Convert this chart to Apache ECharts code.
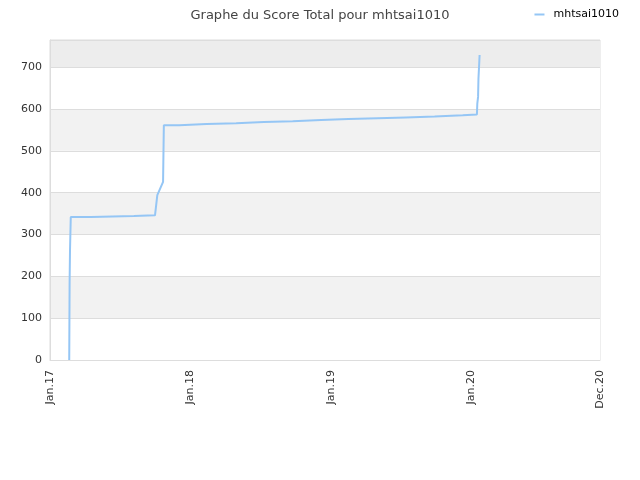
<!DOCTYPE html>
<html>
<head>
<meta charset="utf-8">
<script src="https://cdn.jsdelivr.net/npm/echarts@6/dist/echarts.min.js"></script>
<style>
html,body{margin:0;padding:0;background:#fff;}
#chart{width:640px;height:480px;}
</style>
</head>
<body>
<div id="chart"></div>
<script>
// donnees
var playerName = 'mhtsai1010';
var scoreDates = [
    '2017-02-20','2017-02-21','2017-02-22','2017-02-24','2017-04-18','2017-04-19',
    '2017-08-07','2017-08-08','2017-10-01','2017-10-05','2017-10-07','2017-10-22',
    '2017-10-24','2017-12-03','2017-12-04','2018-02-12','2018-02-13','2018-04-30',
    '2018-05-01','2018-07-11','2018-07-12','2018-09-24','2018-09-25','2018-12-07',
    '2018-12-08','2019-02-16','2019-02-17','2019-05-03','2019-05-04','2019-07-15',
    '2019-07-16','2019-09-28','2019-09-29','2019-12-10','2019-12-11','2020-01-16',
    '2020-01-17','2020-01-19','2020-01-20','2020-01-23'
];
var scoreValues = [
    0,187,261,342,342,344,
    344,346,346,350,394,426,
    561,561,564,564,566,566,
    569,569,571,571,574,574,
    576,576,578,578,580,580,
    582,582,585,585,587,587,
    613,629,673,729
];
var tickDays = [0,365,730,1095,1430];
var tickLabels = ['Jan.17','Jan.18','Jan.19','Jan.20','Dec.20'];

var startDay = Date.UTC(2017,0,1);
function toDay(s) {
    var p = s.split('-');
    return Math.round((Date.UTC(+p[0], +p[1]-1, +p[2]) - startDay) / 86400000);
}

var seriesData = [];
for (var i = 0; i < scoreDates.length; i++) {
    seriesData.push([toDay(scoreDates[i]), scoreValues[i]]);
}

var chart = echarts.init(document.getElementById('chart'));
var option = {
    animation: false,
    textStyle: {fontFamily: 'DejaVu Sans'},
    title: {
        text: 'Graphe du Score Total pour ' + playerName,
        left: 'center',
        top: 4,
        textStyle: {color: '#444', fontSize: 13, fontWeight: 'normal', fontFamily: 'DejaVu Sans'}
    },
    legend: {
        right: 16,
        top: 4,
        itemWidth: 10,
        itemHeight: 2,
        icon: 'rect',
        textStyle: {color: '#000', fontSize: 11, fontFamily: 'DejaVu Sans', padding: [0, 0, 0, 4]},
        data: [playerName]
    },
    grid: {
        left: 50, right: 40, top: 40, bottom: 120,
        show: true,
        borderColor: '#ddd',
        borderWidth: 1
    },
    xAxis: {
        type: 'value',
        min: 0,
        max: 1430,
        interval: 365,
        axisLine: {lineStyle: {color: '#ddd'}},
        axisTick: {show: false},
        splitLine: {show: false},
        axisLabel: {
            rotate: 90,
            color: '#333',
            fontSize: 11,
            margin: 10,
            showMaxLabel: true,
            formatter: function (v) {
                var k = tickDays.indexOf(Math.round(v));
                return k >= 0 ? tickLabels[k] : '';
            }
        }
    },
    yAxis: {
        type: 'value',
        min: 0,
        max: 765,
        interval: 100,
        axisLine: {show: true, lineStyle: {color: '#ddd'}},
        axisTick: {show: false},
        axisLabel: {color: '#333', fontSize: 11, showMaxLabel: false},
        splitLine: {lineStyle: {color: '#ddd'}},
        splitArea: {
            show: true,
            areaStyle: {color: ['#fff','#f2f2f2','#fff','#f2f2f2','#fff','#f2f2f2','#fff','#ededed']}
        }
    },
    series: [{
        name: playerName,
        type: 'line',
        showSymbol: false,
        data: seriesData,
        lineStyle: {color: '#95c6f5', width: 2},
        itemStyle: {color: '#95c6f5'}
    }]
};
chart.setOption(option);
</script>
</body>
</html>
